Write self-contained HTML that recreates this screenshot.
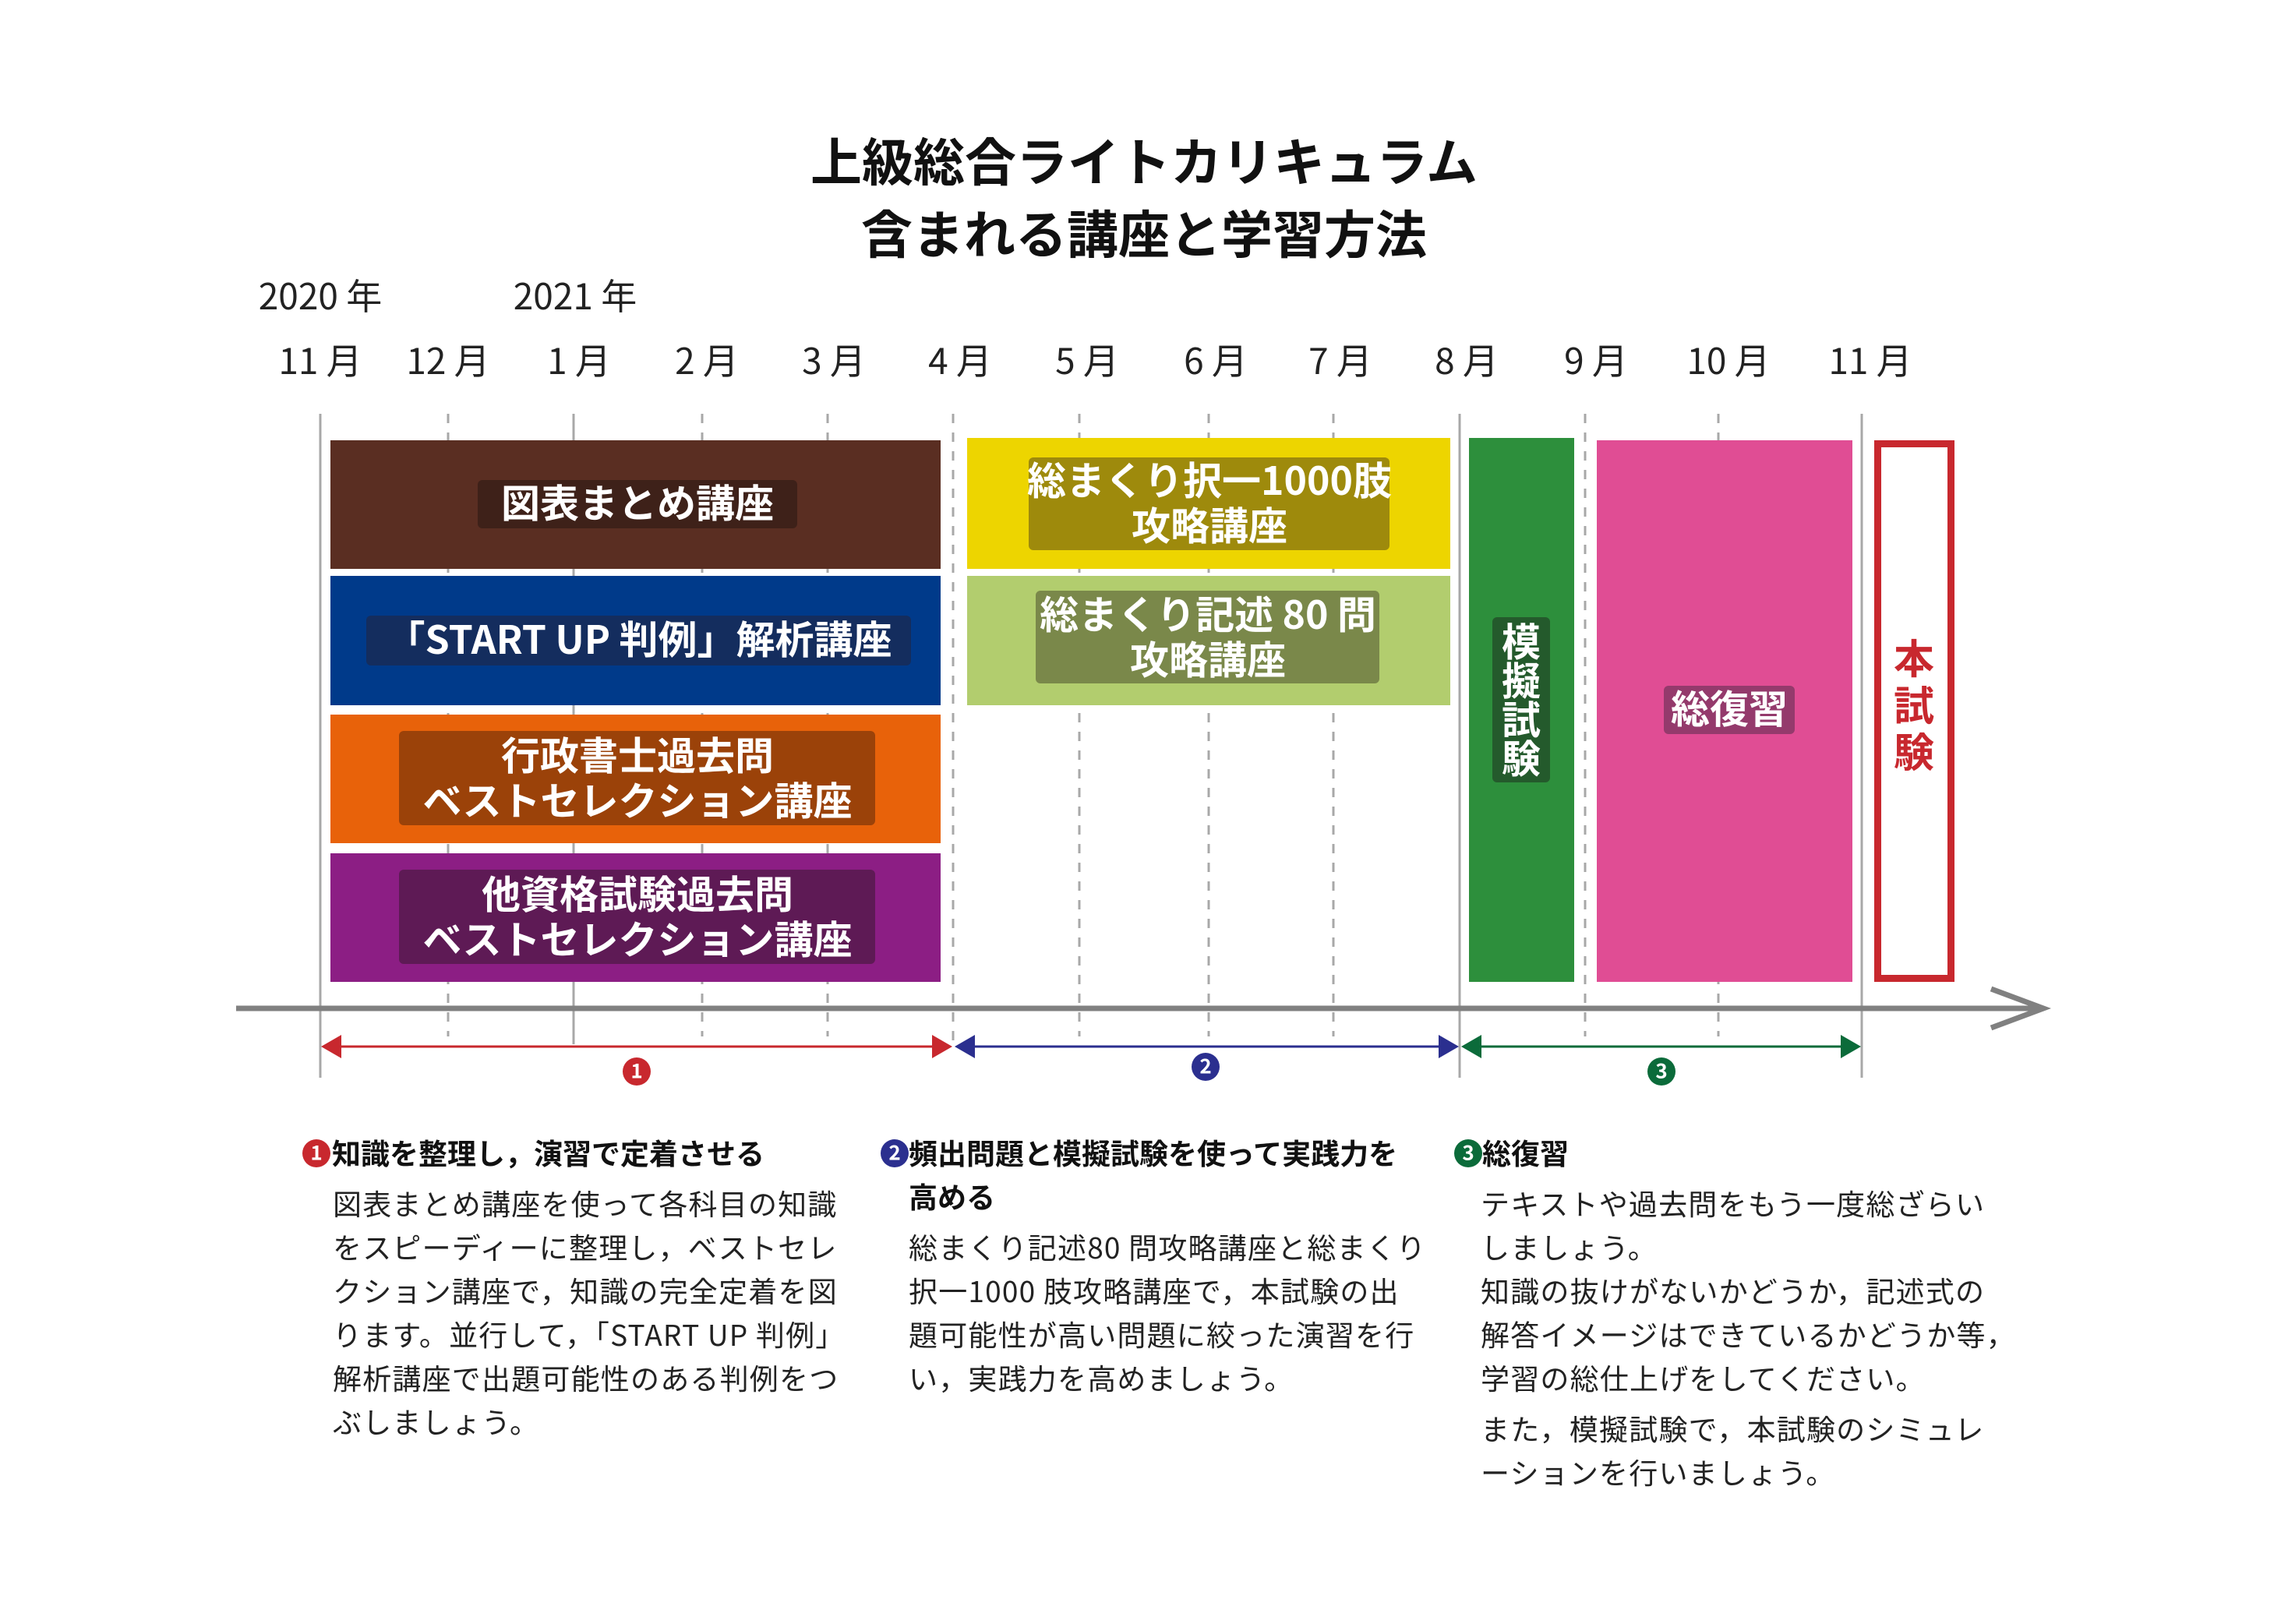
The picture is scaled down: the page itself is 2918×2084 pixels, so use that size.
<!DOCTYPE html>
<html><head><meta charset="utf-8"><style>
html,body{margin:0;padding:0;background:#fff;}
svg{display:block;}
text{font-family:"Noto Sans CJK JP","Liberation Sans",sans-serif;}
</style></head><body>
<svg width="2918" height="2084" viewBox="0 0 2918 2084" xmlns="http://www.w3.org/2000/svg">
<rect width="2918" height="2084" fill="#fff"/>
<!-- title -->
<g font-weight="bold" font-size="66" fill="#111" text-anchor="middle" dominant-baseline="central" transform="translate(0,-6)">
<text x="1468" y="210">上級総合ライトカリキュラム</text>
<text x="1468" y="303">含まれる講座と学習方法</text>
</g>
<!-- year / month labels -->
<g font-size="46" fill="#222" text-anchor="middle" dominant-baseline="central" transform="translate(0,-4)">
<text x="411" y="382">2020 年</text>
<text x="738" y="382">2021 年</text>
<text x="411" y="465">11 月</text>
<text x="575" y="465">12 月</text>
<text x="743" y="465">1 月</text>
<text x="907" y="465">2 月</text>
<text x="1070" y="465">3 月</text>
<text x="1232" y="465">4 月</text>
<text x="1395" y="465">5 月</text>
<text x="1560" y="465">6 月</text>
<text x="1720" y="465">7 月</text>
<text x="1882" y="465">8 月</text>
<text x="2048" y="465">9 月</text>
<text x="2218" y="465">10 月</text>
<text x="2400" y="465">11 月</text>
</g>
<!-- grid lines -->
<g stroke="#a8a8a8" stroke-width="3">
<line x1="411" y1="531" x2="411" y2="1383"/>
<line x1="736" y1="531" x2="736" y2="1340"/>
<line x1="1873" y1="531" x2="1873" y2="1383"/>
<line x1="2389" y1="531" x2="2389" y2="1383"/>
</g>
<g stroke="#a8a8a8" stroke-width="3" stroke-dasharray="12,12">
<line x1="575" y1="531" x2="575" y2="1330"/>
<line x1="901" y1="531" x2="901" y2="1330"/>
<line x1="1062" y1="531" x2="1062" y2="1330"/>
<line x1="1223" y1="531" x2="1223" y2="1340"/>
<line x1="1385" y1="531" x2="1385" y2="1330"/>
<line x1="1551" y1="531" x2="1551" y2="1330"/>
<line x1="1711" y1="531" x2="1711" y2="1330"/>
<line x1="2034" y1="531" x2="2034" y2="1330"/>
<line x1="2205" y1="531" x2="2205" y2="1330"/>
</g>
<!-- blocks -->
<rect x="424" y="565" width="783" height="165" fill="#5a2e22"/>
<rect x="424" y="739" width="783" height="166" fill="#003a8a"/>
<rect x="424" y="917" width="783" height="165" fill="#e8620a"/>
<rect x="424" y="1095" width="783" height="165" fill="#8c1e84"/>
<rect x="1241" y="562" width="620" height="168" fill="#edd500"/>
<rect x="1241" y="739" width="620" height="166" fill="#b2cd6e"/>
<rect x="1885" y="562" width="135" height="698" fill="#2d8f3c"/>
<rect x="2049" y="565" width="328" height="695" fill="#e04d94"/>
<rect x="2409.5" y="569.5" width="94" height="686" fill="#fff" stroke="#c8282e" stroke-width="9"/>
<!-- label bgs -->
<rect x="613" y="616" width="410" height="62" rx="6" fill="#3e2119"/>
<rect x="470" y="790" width="699" height="64" rx="6" fill="#142d5e"/>
<rect x="512" y="938" width="611" height="121" rx="6" fill="#9b4209"/>
<rect x="512" y="1116" width="611" height="121" rx="6" fill="#5e1a55"/>
<rect x="1320" y="587" width="463" height="119" rx="6" fill="#9e8a0c"/>
<rect x="1329" y="758" width="441" height="119" rx="6" fill="#7a884a"/>
<rect x="1915" y="792" width="74" height="212" rx="6" fill="#245a2c"/>
<rect x="2135" y="880" width="168" height="62" rx="6" fill="#943a6c"/>
<!-- labels -->
<g font-weight="bold" font-size="50" fill="#fff" text-anchor="middle" dominant-baseline="central" transform="translate(0,-4)">
<text x="818" y="647">図表まとめ講座</text>
<text x="820" y="822">「START UP 判例」解析講座</text>
<text x="818" y="971">行政書士過去問</text>
<text x="818" y="1029">ベストセレクション講座</text>
<text x="818" y="1149">他資格試験過去問</text>
<text x="818" y="1207">ベストセレクション講座</text>
<text x="1552" y="618">総まくり択一1000肢</text>
<text x="1552" y="676">攻略講座</text>
<text x="1550" y="790">総まくり記述 80 問</text>
<text x="1550" y="848">攻略講座</text>
<text x="1952" y="825">模</text>
<text x="1952" y="875">擬</text>
<text x="1952" y="925">試</text>
<text x="1952" y="975">験</text>
<text x="2219" y="911">総復習</text>
</g>
<g font-weight="bold" font-size="52" fill="#c8282e" text-anchor="middle" dominant-baseline="central" transform="translate(0,-4)">
<text x="2456" y="846">本</text>
<text x="2456" y="906">試</text>
<text x="2456" y="966">験</text>
</g>
<!-- axis -->
<line x1="303" y1="1294" x2="2622" y2="1294" stroke="#808080" stroke-width="7"/>
<polyline points="2555,1269 2622,1294 2555,1319" fill="none" stroke="#808080" stroke-width="7"/>
<!-- range arrows -->
<line x1="430" y1="1343" x2="1205" y2="1343" stroke="#c8282e" stroke-width="3"/>
<polygon points="412,1343 438,1328 438,1358" fill="#c8282e"/>
<polygon points="1222,1343 1196,1328 1196,1358" fill="#c8282e"/>
<line x1="1242" y1="1343" x2="1855" y2="1343" stroke="#2b2f8f" stroke-width="3"/>
<polygon points="1225,1343 1251,1328 1251,1358" fill="#2b2f8f"/>
<polygon points="1872,1343 1846,1328 1846,1358" fill="#2b2f8f"/>
<line x1="1892" y1="1343" x2="2370" y2="1343" stroke="#0b6b3a" stroke-width="3"/>
<polygon points="1875,1343 1901,1328 1901,1358" fill="#0b6b3a"/>
<polygon points="2388,1343 2362,1328 2362,1358" fill="#0b6b3a"/>
<g font-weight="bold" font-size="26" fill="#fff" text-anchor="middle" dominant-baseline="central">
<circle cx="817" cy="1375" r="18" fill="#c8282e"/><text x="817" y="1373">1</text>
<circle cx="1547" cy="1369" r="18" fill="#2b2f8f"/><text x="1547" y="1367">2</text>
<circle cx="2132" cy="1375" r="18" fill="#0b6b3a"/><text x="2132" y="1373">3</text>
<circle cx="406" cy="1480" r="18" fill="#c8282e"/><text x="406" y="1478">1</text>
<circle cx="1148" cy="1480" r="18" fill="#2b2f8f"/><text x="1148" y="1478">2</text>
<circle cx="1884" cy="1480" r="18" fill="#0b6b3a"/><text x="1884" y="1478">3</text>
</g>
<!-- headings -->
<g font-weight="bold" font-size="37" fill="#111" dominant-baseline="central" transform="translate(0,-4)">
<text x="426" y="1482">知識を整理し，演習で定着させる</text>
<text x="1166" y="1482">頻出問題と模擬試験を使って実践力を</text>
<text x="1166" y="1538">高める</text>
<text x="1902" y="1482">総復習</text>
</g>
<!-- body -->
<g font-size="37" fill="#222" dominant-baseline="central" letter-spacing="1.2" transform="translate(0,-4)">
<text x="427" y="1547">図表まとめ講座を使って各科目の知識</text>
<text x="427" y="1603">をスピーディーに整理し，ベストセレ</text>
<text x="427" y="1659">クション講座で，知識の完全定着を図</text>
<text x="427" y="1715">ります。並行して，「START UP 判例」</text>
<text x="427" y="1771">解析講座で出題可能性のある判例をつ</text>
<text x="427" y="1827">ぶしましょう。</text>
<text x="1166" y="1603">総まくり記述80 問攻略講座と総まくり</text>
<text x="1166" y="1659">択一1000 肢攻略講座で，本試験の出</text>
<text x="1166" y="1715">題可能性が高い問題に絞った演習を行</text>
<text x="1166" y="1771">い，実践力を高めましょう。</text>
<text x="1900" y="1547">テキストや過去問をもう一度総ざらい</text>
<text x="1900" y="1603">しましょう。</text>
<text x="1900" y="1659">知識の抜けがないかどうか，記述式の</text>
<text x="1900" y="1715">解答イメージはできているかどうか等，</text>
<text x="1900" y="1771">学習の総仕上げをしてください。</text>
<text x="1900" y="1836">また，模擬試験で，本試験のシミュレ</text>
<text x="1900" y="1892">ーションを行いましょう。</text>
</g>
</svg>
</body></html>
